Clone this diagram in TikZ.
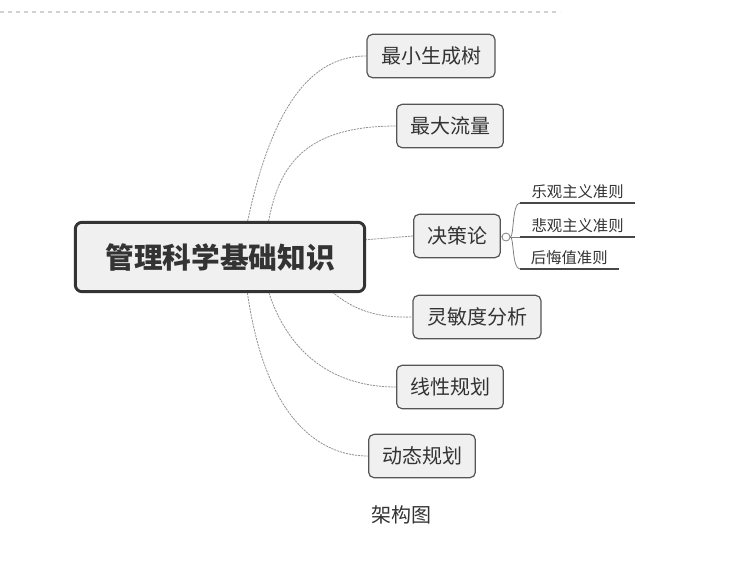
\documentclass[tikz,border=0pt]{standalone}
\usepackage{fontspec}
\setmainfont{Noto Sans CJK SC}
\definecolor{boxfill}{HTML}{F0F0F0}
\definecolor{boxline}{HTML}{555555}
\definecolor{inkgray}{HTML}{333333}
\begin{document}
\begin{tikzpicture}[x=0.75pt,y=-0.75pt,
    root/.style={draw=inkgray, line width=2.2pt, rounded corners=5pt, fill=boxfill, text=inkgray, minimum width=217pt, minimum height=52pt, font=\fontsize{21.5}{24}\selectfont\bfseries},
    topic/.style={draw=boxline, line width=0.9pt, rounded corners=4pt, fill=boxfill, text=inkgray, minimum height=32.5pt, inner xsep=0pt, font=\fontsize{15}{18}\selectfont},
    leaf/.style={anchor=south west, inner xsep=0pt, inner ysep=3pt, text=inkgray, font=\fontsize{11.5}{14}\selectfont},
    branch/.style={draw=gray!85, line width=0.6pt, dash pattern=on 1.6pt off 0.7pt},
    leafline/.style={draw=inkgray!90, line width=1.5pt}]
    \useasboundingbox (0,0) rectangle (747,562);
    \draw[gray!35, dashed, line width=0.8pt] (0,12) -- (560,12);

    % topics first, so the branches can end on them
    \node[topic, minimum width=96pt] (b) at (431,56) {最小生成树};
    \node[topic, minimum width=80pt] (c) at (450,126) {最大流量};
    \node[topic, minimum width=65pt] (d) at (457,236) {决策论};
    \node[topic, minimum width=96pt] (e) at (477,317) {灵敏度分析};
    \node[topic, minimum width=80pt] (f) at (450,387) {线性规划};
    \node[topic, minimum width=80pt] (g) at (422,456) {动态规划};

    % branches start on the root's border, which covers them
    \coordinate (o1) at (247,224);
    \coordinate (o2) at (268,224);
    \coordinate (o3) at (362,240);
    \coordinate (o4) at (330,290);
    \coordinate (o5) at (268,290);
    \coordinate (o6) at (247,290);
    \draw[branch] (o1) .. controls (275,90) and (320,56) .. (b.west);
    \draw[branch] (o2) .. controls (278,170) and (300,126) .. (c.west);
    \draw[branch] (o3) -- (d.west);
    \draw[branch] (o4) .. controls (355,312) and (380,318) .. (e.west);
    \draw[branch] (o5) .. controls (290,360) and (340,387) .. (f.west);
    \draw[branch] (o6) .. controls (265,420) and (320,456) .. (g.west);

    \node[root] (a) at (220,257) {管理科学基础知识};

    \node[leaf, minimum width=86pt] (l1) at (520,203) {乐观主义准则};
    \node[leaf, minimum width=86pt] (l2) at (520,237) {悲观主义准则};
    \node[leaf, minimum width=73.5pt] (l3) at (520,269) {后悔值准则};
    \node[circle, draw=gray, fill=white, line width=0.6pt, inner sep=0pt, minimum size=6pt] (k) at (506,237) {};

    \draw[branch] (d.east) -- (k.west);
    \draw[gray, line width=0.6pt] (k.east) .. controls (514,237) and (512,203) .. (l1.south west);
    \draw[gray, line width=0.6pt] (k.east) -- (l2.south west);
    \draw[gray, line width=0.6pt] (k.east) .. controls (514,237) and (512,269) .. (l3.south west);
    \draw[leafline] (l1.south west) -- (l1.south east);
    \draw[leafline] (l2.south west) -- (l2.south east);
    \draw[leafline] (l3.south west) -- (l3.south east);

    \node[text=inkgray, font=\fontsize{15}{18}\selectfont] (cap) at (401,515) {架构图};
\end{tikzpicture}
\end{document}
